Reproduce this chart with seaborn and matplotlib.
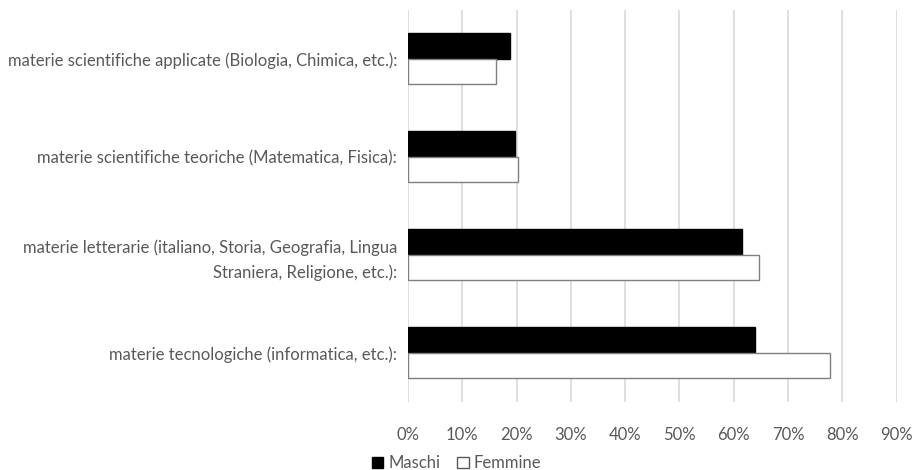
import matplotlib
matplotlib.use('Agg')
import matplotlib.pyplot as plt
from matplotlib.patches import Patch
from matplotlib.ticker import PercentFormatter
import pandas as pd
import seaborn as sns

# dati
categorie = [
    'materie scientifiche applicate (Biologia, Chimica, etc.):',
    'materie scientifiche teoriche (Matematica, Fisica):',
    'materie letterarie (italiano, Storia, Geografia, Lingua\nStraniera, Religione, etc.):',
    'materie tecnologiche (informatica, etc.):',
]
maschi = [0.187, 0.197, 0.616, 0.640]
femmine = [0.162, 0.203, 0.647, 0.778]
serie = ['Maschi', 'Femmine']

df = pd.DataFrame({
    'categoria': categorie * 2,
    'valore': maschi + femmine,
    'sesso': [serie[0]] * len(categorie) + [serie[1]] * len(categorie),
})

sns.set_style('white')
plt.rcParams['font.family'] = ['Lato', 'DejaVu Sans']

fig, ax = plt.subplots(figsize=(9.13, 4.70), dpi=100)
fig.subplots_adjust(left=0.447, right=0.982, top=0.979, bottom=0.145)

sns.barplot(data=df, y='categoria', x='valore', hue='sesso', orient='h',
            palette={'Maschi': 'black', 'Femmine': 'white'},
            width=0.52, ax=ax, legend=False)

# bordo grigio per le barre
for cont, col in zip(ax.containers, ['black', '#7f7f7f']):
    for bar in cont:
        bar.set_edgecolor(col)
        bar.set_linewidth(1.0)

ax.set_xlim(0, 0.9)
ax.set_xticks([i / 10 for i in range(10)])
ax.xaxis.set_major_formatter(PercentFormatter(1.0, decimals=0))
ax.grid(axis='x', color='#d9d9d9', linewidth=1.2)
ax.set_axisbelow(True)
for s in ax.spines.values():
    s.set_visible(False)
ax.set_xlabel('')
ax.set_ylabel('')
ax.tick_params(axis='both', length=0, labelsize=12, colors='#595959')
ax.tick_params(axis='y', pad=8)
ax.tick_params(axis='x', pad=18)
for lab in ax.get_yticklabels():
    lab.set_linespacing(1.6)
    lab.set_horizontalalignment('right')
    lab.set_multialignment('right')

handles = [Patch(facecolor='black', edgecolor='black', label='Maschi'),
           Patch(facecolor='white', edgecolor='#595959', label='Femmine')]
fig.legend(handles=handles, loc='lower center', bbox_to_anchor=(0.5, -0.035),
           ncol=2, frameon=False, fontsize=12, handlelength=0.7, handleheight=0.7,
           handletextpad=0.3, columnspacing=1.0, labelcolor='#595959')

fig.savefig('out.png', dpi=100)
